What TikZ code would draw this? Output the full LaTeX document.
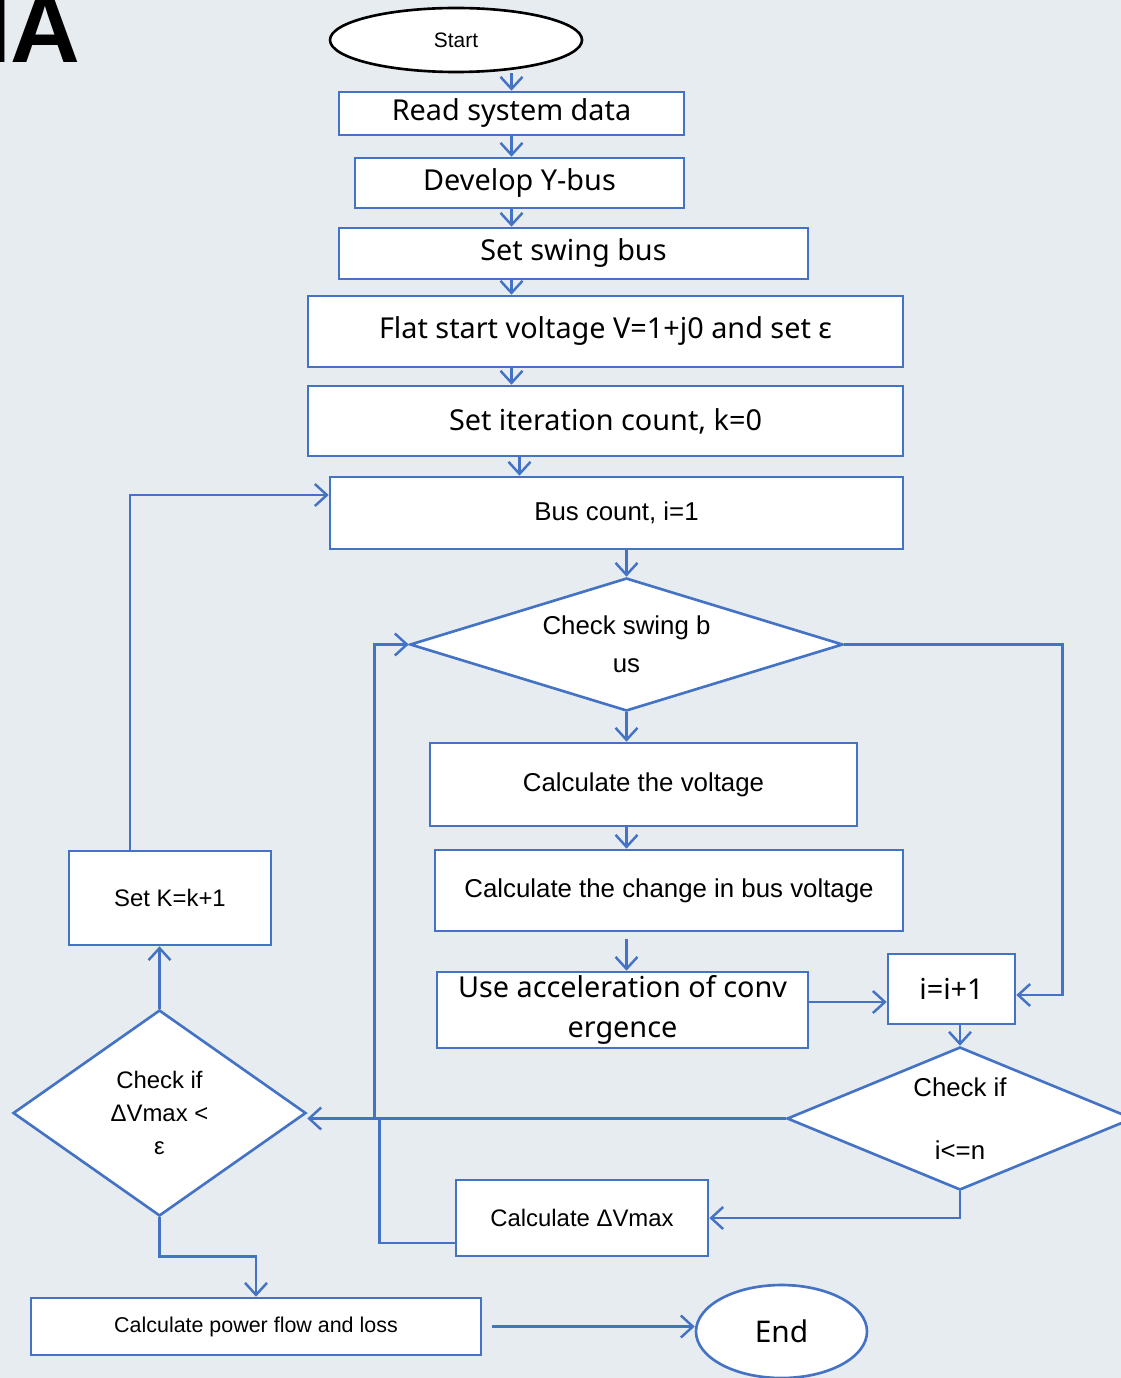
\documentclass[tikz,border=0pt]{standalone}
\usepackage{fontspec}
\setmainfont{Liberation Sans}
\newfontfamily\gothic{Noto Sans}
\usetikzlibrary{shapes.geometric,arrows.meta}
\definecolor{flowblue}{HTML}{4472C4}
\definecolor{slidebg}{HTML}{E7ECF1}
\tikzstyle{box}=[draw=flowblue,fill=white,line width=1.5pt,rectangle,inner sep=2pt,align=center]
\tikzstyle{decision}=[draw=flowblue,fill=white,line width=1.5pt,diamond,inner sep=0pt,align=center]
\tikzstyle{terminal}=[ellipse,fill=white,line width=1.5pt,inner sep=0pt]
\tikzstyle{arr}=[draw=flowblue,line width=1.4pt,-{Straight Barb[length=2.4mm,width=4.4mm]}]
\tikzstyle{line}=[draw=flowblue,line width=1.4pt]
\newcommand{\gtext}{\gothic\fontsize{16.4}{22.7}\selectfont}
\newcommand{\atext}{\fontsize{14.7}{21.5}\selectfont}
\newcommand{\stext}{\fontsize{13.6}{19}\selectfont}
\newcommand{\flowbox}[6]{\node[box,minimum width=#4*0.02cm,minimum height=#5*0.02cm,#6] (#1) at (#2) {#3};}

\begin{document}
\begin{tikzpicture}[x=0.02cm,y=-0.02cm]
\useasboundingbox (0,0) rectangle (1120,1378);
\fill[slidebg] (-20,-20) rectangle (1140,1398);
\node[anchor=base east,inner sep=0pt,font=\fontsize{55}{55}\selectfont\bfseries] (title) at (81,63) {IA};

\node[terminal,draw=black,minimum width=252*0.02cm,minimum height=64*0.02cm,font=\fontsize{11.9}{14}\selectfont] (start) at (456,40) {Start};
\flowbox{read}{511.5,113.5}{Read system data}{345}{43}{font=\gtext}
\flowbox{ybus}{519.5,183}{Develop Y-bus}{329}{50}{font=\gtext}
\flowbox{swing}{573.5,253.5}{Set swing bus}{469}{51}{font=\gtext}
\flowbox{flat}{605.5,331.5}{Flat start voltage V=1+j0 and set ε}{595}{71}{font=\gtext}
\flowbox{iter}{605.5,421}{Set iteration count, k=0}{595}{70}{font=\gtext}
\flowbox{buscount}{616.5,513}{Bus count, i=1}{573}{72}{font=\atext}
\node[decision,aspect=3.26,minimum width=433*0.02cm,minimum height=133*0.02cm,font=\atext] (chkswing) at (626.5,644.5) {Check swing b\\us};
\flowbox{calcv}{643.5,784.5}{Calculate the voltage}{427}{83}{font=\atext}
\flowbox{calcdv}{669,890.5}{Calculate the change in bus voltage}{468}{81}{font=\atext}
\flowbox{accel}{622.5,1010}{Use acceleration of conv\\ergence}{371}{76}{font=\gtext}
\flowbox{incr}{951.5,989}{i=i+1}{127}{70}{font=\gtext}
\node[decision,aspect=2.42,minimum width=346*0.02cm,minimum height=143*0.02cm,font=\atext] (chkn) at (960,1118.5) {Check if\\[14pt]i<=n};
\flowbox{maxdv}{582,1218}{Calculate ΔVmax}{252}{76}{font=\stext}
\flowbox{setk}{170,898}{Set K=k+1}{202}{94}{font=\stext}
\node[decision,aspect=1.42,minimum width=293*0.02cm,minimum height=206*0.02cm,font=\stext] (chkconv) at (159.5,1113) {Check if\\ΔVmax <\\ε};
\flowbox{power}{256,1326.5}{Calculate power flow and loss}{450}{57}{font=\fontsize{12.2}{14}\selectfont}
\node[terminal,draw=flowblue,minimum width=171*0.02cm,minimum height=93*0.02cm,font=\gothic\fontsize{17}{20}\selectfont] (end) at (781.5,1331.5) {End};

\draw[arr] (start.south -| read.north) -- (read.north);
\draw[arr] (read.south) -- (read.south |- ybus.north);
\draw[arr] (ybus.south -| read.south) -- (swing.north -| read.south);
\draw[arr] (swing.south -| read.south) -- (flat.north -| read.south);
\draw[arr] (flat.south -| read.south) -- (iter.north -| read.south);
\draw[arr] (iter.south -| ybus.south) -- (buscount.north -| ybus.south);
\draw[arr] (buscount.south -| chkswing.north) -- (chkswing.north);
\draw[arr] (chkswing.south) -- (chkswing.south |- calcv.north);
\draw[arr] (calcv.south -| chkswing.south) -- (calcdv.north -| chkswing.south);
\draw[arr,shorten <=0.14cm] (calcdv.south -| chkswing.south) -- (accel.north -| chkswing.south);
\draw[arr] ([yshift=0.16cm]accel.east) -- ([yshift=0.16cm]accel.east -| incr.west);
\draw[arr] (chkswing.east) -- ++(218,0) |- ([yshift=-0.12cm]incr.east);
\draw[arr] (incr.south -| chkn.north) -- (chkn.north);
\draw[arr] (chkn.south) |- (maxdv.east);
\draw[arr] (chkn.west) -- (chkn.west -| chkconv.east);
\draw[line] ([yshift=-0.5cm]maxdv.west) -- ++(-75,0) coordinate (j1) -- (j1 |- chkn.west);
\draw[arr] (j1 |- chkn.west) ++(-5,0) |- (chkswing.west);
\draw[arr] (chkconv.north) -- (chkconv.north |- setk.south);
\draw[arr] ([xshift=-0.8cm]setk.north) |- ([yshift=0.36cm]buscount.west);
\draw[arr] (chkconv.south) -- ++(0,39) -| (power.north);
\draw[arr,shorten <=0.2cm] (power.east) -- (power.east -| end.west);
\end{tikzpicture}
\end{document}
